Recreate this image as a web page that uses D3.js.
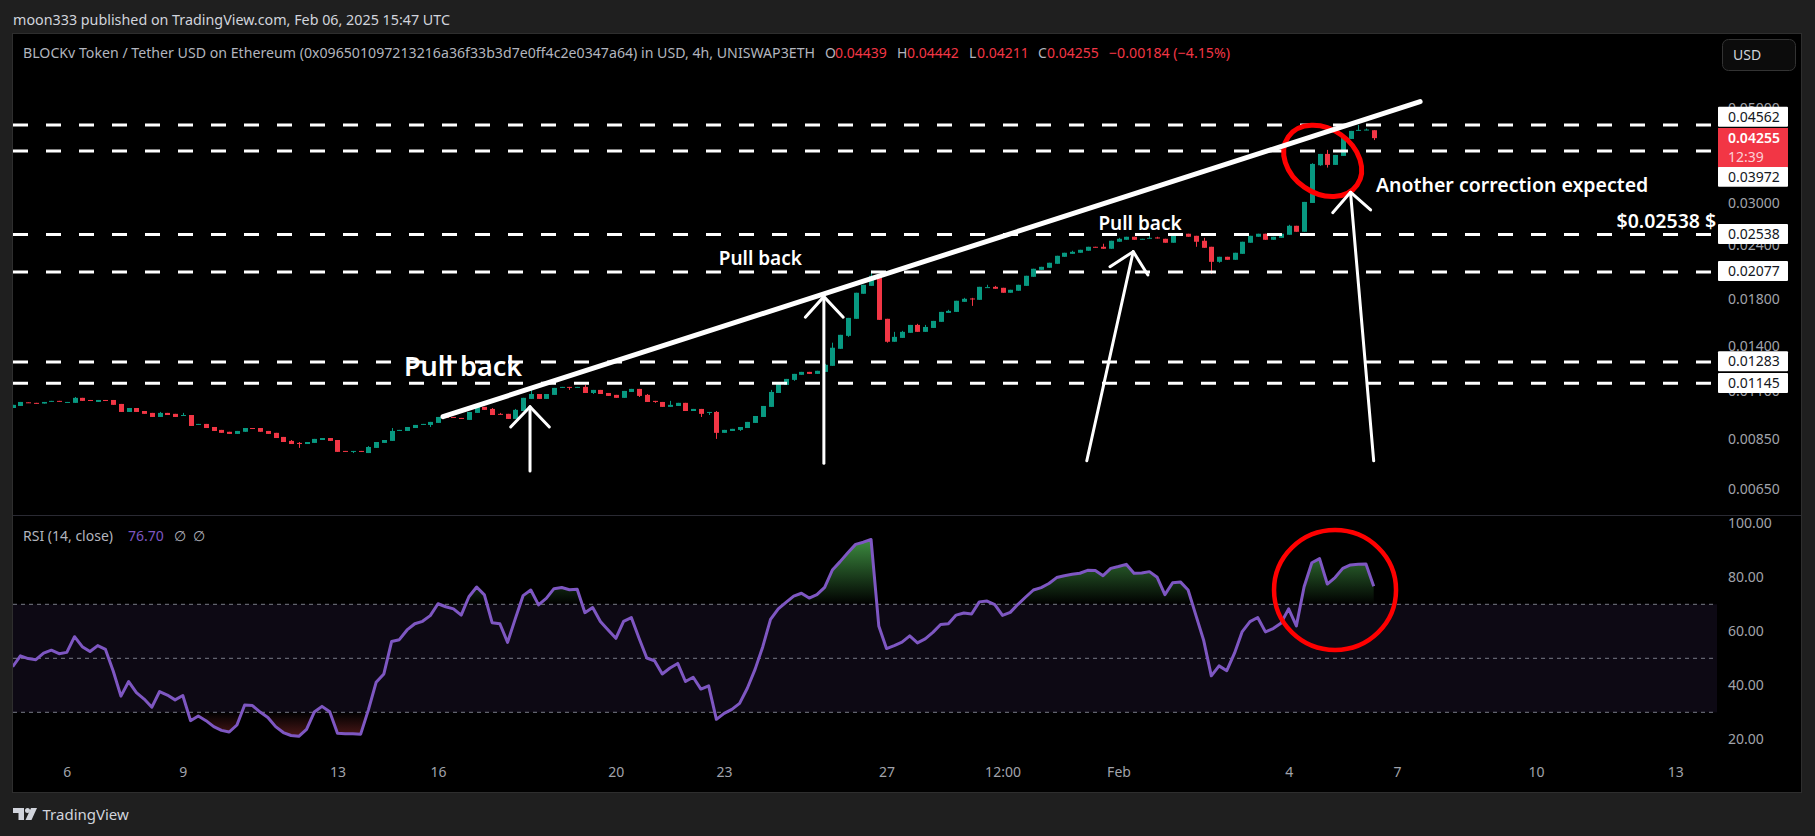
<!DOCTYPE html>
<html>
<head>
<meta charset="utf-8">
<script src="https://cdn.jsdelivr.net/npm/d3@7"></script>
<style>
	html, body { margin: 0; padding: 0; background: #1f1f1f; overflow: hidden; }
	text { font-family: "Noto Sans", sans-serif; }
</style>
</head>
<body>
<div id="chart"></div>
<script>
// 4h candles
var opens = [
	.01003,.01014,.01034,.01031,.01027,.01038,.01042,.01033,.01031,.01059,
	.01047,.01036,.01047,.01047,.01025,.00982,.01003,.00987,.00977,.00956,
	.00977,.00972,.00961,.00966,.00916,.00921,.00906,.00892,.00883,.00873,
	.00883,.00901,.00901,.00887,.00878,.00859,.00841,.00832,.00827,.00832,
	.00845,.00854,.00845,.00797,.00794,.00797,.00788,.00810,.00832,.00841,
	.00887,.00887,.00901,.00916,.00916,.00926,.00956,.00956,.00951,.00941,
	.00977,.01009,.00998,.00972,.00972,.00946,.00987,.01053,.01081,.01053,
	.01076,.01119,.01123,.01119,.01123,.01087,.01105,.01087,.01076,.01059,
	.01093,.01111,.01076,.01042,.01036,.01009,.01014,.01031,.00987,.00998,
	.00978,.00982,.00878,.00887,.00892,.00901,.00926,.00956,.01009,.01087,
	.01135,.01166,.01198,.01217,.01204,.01217,.01257,.01377,.01476,.01617,
	.01849,.01929,.02036,.01617,.01430,.01460,.01500,.01565,.01508,.01540,
	.01591,.01669,.01678,.01771,.01803,.01790,.01912,.01919,.01909,.01859,
	.01879,.01929,.02025,.02102,.02125,.02171,.02254,.02290,.02303,.02328,
	.02378,.02378,.02353,.02443,.02469,.02509,.02473,.02486,.02500,.02482,
	.02430,.02541,.02550,.02522,.02456,.02378,.02194,.02254,.02218,.02290,
	.02430,.02509,.02550,.02469,.02495,.02536,.02661,.02577,.03007,.03680,
	.03910,.03687,.03868,.04237,.04423,.04440,.04439
];
var closes = [
	.01020,.01036,.01031,.01027,.01036,.01042,.01038,.01036,.01059,.01042,
	.01042,.01047,.01042,.01020,.00982,.01003,.00982,.00972,.00956,.00977,
	.00966,.00956,.00966,.00911,.00921,.00901,.00887,.00878,.00873,.00887,
	.00901,.00897,.00883,.00873,.00854,.00836,.00827,.00827,.00836,.00850,
	.00854,.00841,.00793,.00794,.00797,.00794,.00814,.00836,.00845,.00887,
	.00892,.00906,.00916,.00921,.00931,.00956,.00951,.00953,.00947,.00982,
	.01009,.00993,.00966,.00968,.00946,.00993,.01059,.01081,.01053,.01081,
	.01117,.01123,.01117,.01123,.01087,.01105,.01081,.01070,.01059,.01099,
	.01111,.01070,.01036,.01036,.01009,.01020,.01031,.00987,.00998,.00972,
	.00982,.00878,.00892,.00897,.00906,.00931,.00961,.01014,.01093,.01141,
	.01172,.01204,.01217,.01204,.01224,.01264,.01385,.01484,.01625,.01859,
	.01940,.02036,.01608,.01430,.01468,.01508,.01565,.01508,.01548,.01599,
	.01678,.01687,.01781,.01800,.01797,.01919,.01916,.01899,.01859,.01889,
	.01940,.02036,.02114,.02136,.02183,.02266,.02303,.02315,.02340,.02378,
	.02370,.02353,.02456,.02482,.02509,.02469,.02482,.02495,.02486,.02430,
	.02536,.02550,.02509,.02443,.02365,.02194,.02254,.02218,.02303,.02443,
	.02522,.02550,.02469,.02509,.02550,.02661,.02577,.03024,.03706,.03910,
	.03687,.03889,.04260,.04423,.04447,.04455,.04255
];
var highs = [
	.01020,.01036,.01034,.01031,.01036,.01042,.01042,.01036,.01064,.01059,
	.01047,.01047,.01047,.01047,.01025,.01003,.01003,.00987,.00977,.00982,
	.00977,.00972,.00977,.00966,.00921,.00921,.00906,.00892,.00883,.00887,
	.00901,.00901,.00901,.00887,.00878,.00859,.00845,.00836,.00836,.00850,
	.00854,.00854,.00845,.00797,.00797,.00797,.00818,.00836,.00845,.00901,
	.00892,.00906,.00916,.00921,.00931,.00956,.00956,.00956,.00951,.00982,
	.01014,.01009,.01003,.00977,.00972,.00998,.01059,.01105,.01081,.01081,
	.01117,.01123,.01123,.01123,.01135,.01105,.01105,.01087,.01076,.01099,
	.01111,.01111,.01081,.01042,.01036,.01042,.01031,.01031,.00998,.00998,
	.00982,.00987,.00892,.00897,.00906,.00931,.00961,.01014,.01105,.01147,
	.01172,.01204,.01217,.01217,.01224,.01271,.01423,.01484,.01625,.01859,
	.01940,.02091,.02047,.01617,.01508,.01516,.01565,.01574,.01565,.01599,
	.01678,.01697,.01781,.01809,.01809,.01919,.01940,.01929,.01909,.01889,
	.01940,.02036,.02114,.02136,.02183,.02266,.02303,.02328,.02340,.02378,
	.02378,.02417,.02456,.02495,.02509,.02509,.02482,.02522,.02509,.02482,
	.02536,.02550,.02550,.02522,.02495,.02378,.02254,.02254,.02303,.02443,
	.02522,.02550,.02550,.02509,.02550,.02675,.02661,.03024,.03720,.03910,
	.03995,.03889,.04260,.04423,.04567,.04480,.04442
];
var lows = [
	.01003,.01014,.01031,.01027,.01027,.01038,.01038,.01033,.01031,.01042,
	.01042,.01036,.01042,.01020,.00982,.00982,.00982,.00972,.00956,.00956,
	.00966,.00956,.00961,.00911,.00916,.00901,.00887,.00878,.00873,.00873,
	.00883,.00897,.00883,.00873,.00854,.00836,.00827,.00810,.00827,.00832,
	.00845,.00841,.00793,.00794,.00788,.00794,.00788,.00810,.00832,.00841,
	.00887,.00887,.00901,.00916,.00906,.00926,.00951,.00953,.00947,.00941,
	.00977,.00993,.00966,.00968,.00946,.00946,.00987,.01053,.01053,.01053,
	.01076,.01119,.01105,.01119,.01087,.01081,.01081,.01070,.01059,.01059,
	.01093,.01064,.01036,.01031,.01009,.01009,.01014,.00987,.00987,.00956,
	.00966,.00850,.00878,.00887,.00887,.00901,.00926,.00956,.01009,.01087,
	.01135,.01160,.01198,.01204,.01204,.01217,.01257,.01377,.01468,.01617,
	.01849,.01929,.01608,.01423,.01430,.01460,.01500,.01508,.01508,.01540,
	.01591,.01669,.01678,.01771,.01733,.01790,.01912,.01899,.01859,.01859,
	.01879,.01929,.02025,.02102,.02125,.02171,.02254,.02290,.02303,.02328,
	.02370,.02353,.02353,.02443,.02469,.02469,.02473,.02486,.02486,.02430,
	.02430,.02541,.02509,.02378,.02365,.02058,.02183,.02218,.02218,.02290,
	.02430,.02509,.02469,.02469,.02495,.02536,.02577,.02577,.03007,.03667,
	.03634,.03687,.03868,.04237,.04423,.04440,.04211
];
var rsiValues = [
	46.9,50.9,49.9,49.5,51.9,53.0,51.7,52.2,58.0,54.3,
	52.5,54.7,53.3,45.3,36.0,41.4,37.3,34.9,31.9,37.7,
	36.4,34.6,36.2,26.9,28.6,26.9,24.7,23.3,22.7,25.3,
	32.7,32.5,30.1,28.1,24.7,22.5,21.4,21.1,23.7,30.1,
	32.2,30.2,22.2,22.1,22.1,21.9,30.9,41.1,44.2,56.2,
	56.9,60.5,62.8,63.7,65.8,70.2,69.1,68.3,66.0,72.8,
	76.4,73.5,63.2,62.8,55.9,64.7,73.2,75.3,69.8,72.2,
	75.8,76.2,75.4,75.6,66.9,68.8,63.6,60.5,57.4,63.7,
	65.1,57.4,50.1,49.1,44.2,46.4,48.1,41.4,43.0,38.6,
	39.8,27.4,29.6,31.1,33.3,38.9,45.9,54.3,64.4,68.3,
	70.7,73.0,74.1,72.3,73.6,76.3,82.7,85.8,89.1,92.2,
	93.0,94.0,62.0,53.6,54.7,56.0,58.3,55.7,57.2,59.6,
	62.5,62.8,66.0,66.8,66.4,70.9,71.2,69.9,65.9,67.0,
	70.0,72.7,75.3,76.2,77.7,79.9,80.6,81.1,81.5,82.6,
	82.5,80.6,83.3,84.0,84.8,81.5,81.6,82.1,80.0,73.6,
	78.0,78.3,75.3,66.0,56.8,43.5,47.2,45.4,51.9,59.9,
	63.6,65.1,59.8,61.0,63.0,68.3,62.0,76.5,85.4,86.9,
	77.5,79.9,83.3,84.6,84.8,84.9,76.7
];

// axis labels
var priceTicks = [0.05, 0.03, 0.024, 0.018, 0.014, 0.011, 0.0085, 0.0065];
var rsiTicks = [100, 80, 60, 40, 20];
var rsiBands = [70, 50, 30];
var timeTickBars = [7, 22, 42, 55, 78, 92, 113, 128, 143, 165, 179, 197, 215];
var timeTickLabels = ["6", "9", "13", "16", "20", "23", "27", "12:00", "Feb", "4", "7", "10", "13"];

// horizontal levels drawn on the chart
var levels = [0.04562, 0.03972, 0.02538, 0.02077, 0.01283, 0.01145];

// trend line and arrows as [bar, price]
var trendLine = [[55.65, 0.009574], [182, 0.05174]];
var arrows = [
	{ tip: [66.9, 0.0101], tail: [66.9, 0.00716], left: [64.4, 0.00906], right: [69.4, 0.00906] },
	{ tip: [104.9, 0.01821], tail: [104.9, 0.00746], left: [102.5, 0.01631], right: [107.4, 0.01631] },
	{ tip: [144.9, 0.02317], tail: [138.9, 0.00756], left: [141.9, 0.02138], right: [146.8, 0.02045] },
	{ tip: [173, 0.03185], tail: [176, 0.00756], left: [170.7, 0.02855], right: [175.6, 0.02897] }
];
var notes = [
	{ text: "Pull back", bar: 50.6, price: 0.01249, size: 27 },
	{ text: "Pull back", bar: 91.3, price: 0.0224, size: 19 },
	{ text: "Pull back", bar: 140.4, price: 0.02702, size: 19 },
	{ text: "Another correction expected", bar: 176.3, price: 0.03299, size: 19.5 },
	{ text: "$0.02538 $", bar: 207.4, price: 0.02721, size: 19.5 }
];

// legend pieces
var ohlcNames = ["O", "H", "L", "C"];
var ohlcValues = ["0.04439", "0.04442", "0.04211", "0.04255"];
var ohlcNameX = [825, 897, 969, 1038];
var ohlcValueX = [835, 907, 977, 1047];

var width = 1815, height = 836;
var paneLeft = 13, paneTop = 34, paneRight = 1801, paneBottom = 792;
var plotRight = 1717, paneSplit = 515;
var green = "#089981", red = "#f23645", purple = "#7e57c2";

var svg = d3.select("#chart").append("svg")
	.attr("width", width)
	.attr("height", height)
	.style("display", "block");

var x = d3.scaleLinear().domain([0, 176]).range([12.67, 1373.7]);
var y = d3.scaleLog().domain([0.0065, 0.05]).range([489, 108]);
var yRsi = d3.scaleLinear().domain([70, 30]).range([604.3, 712.3]);

var defs = svg.append("defs");

function addClip(id, x0, y0, w, h) {
	defs.append("clipPath").attr("id", id).append("rect")
		.attr("x", x0).attr("y", y0).attr("width", w).attr("height", h);
}
addClip("plotClip", paneLeft, paneTop, plotRight - paneLeft, paneSplit - paneTop);
addClip("rsiClip", paneLeft, paneSplit, plotRight - paneLeft, paneBottom - paneSplit);
addClip("upperClip", paneLeft, yRsi(100), plotRight - paneLeft, yRsi(70) - yRsi(100));
addClip("lowerClip", paneLeft, yRsi(30), plotRight - paneLeft, yRsi(0) - yRsi(30));

function addGradient(id, from, to, color, fromAlpha, toAlpha) {
	var g = defs.append("linearGradient").attr("id", id)
		.attr("gradientUnits", "userSpaceOnUse")
		.attr("x1", 0).attr("x2", 0).attr("y1", from).attr("y2", to);
	g.append("stop").attr("offset", 0).attr("stop-color", color).attr("stop-opacity", fromAlpha);
	g.append("stop").attr("offset", 1).attr("stop-color", color).attr("stop-opacity", toAlpha);
}
addGradient("overbought", yRsi(100), yRsi(70), "#4caf50", 1, 0);
addGradient("oversold", yRsi(30), yRsi(0), "#ff5252", 0, 1);

// page and panes
svg.append("text")
	.attr("x", 13).attr("y", 20).attr("dy", "0.35em")
	.attr("fill", "#d1d4dc").attr("font-size", 14)
	.attr("textLength", 437).attr("lengthAdjust", "spacingAndGlyphs")
	.text("moon333 published on TradingView.com, Feb 06, 2025 15:47 UTC");

svg.append("rect")
	.attr("x", paneLeft - 0.5).attr("y", paneTop - 0.5)
	.attr("width", paneRight - paneLeft + 1).attr("height", paneBottom - paneTop + 1)
	.attr("fill", "#000").attr("stroke", "#2e2e2e");

svg.append("line")
	.attr("x1", paneLeft).attr("x2", paneRight)
	.attr("y1", paneSplit + 0.5).attr("y2", paneSplit + 0.5)
	.attr("stroke", "#2a2a33");

// legend
var legendGrey = "#b2b5be";
svg.append("text")
	.attr("x", 23).attr("y", 53).attr("dy", "0.35em")
	.attr("fill", legendGrey).attr("font-size", 14)
	.attr("textLength", 792).attr("lengthAdjust", "spacingAndGlyphs")
	.text("BLOCKv Token / Tether USD on Ethereum (0x096501097213216a36f33b3d7e0ff4c2e0347a64) in USD, 4h, UNISWAP3ETH");

ohlcNames.forEach(function(name, i) {
	svg.append("text")
		.attr("x", ohlcNameX[i]).attr("y", 53).attr("dy", "0.35em")
		.attr("fill", legendGrey).attr("font-size", 14)
		.text(name);
	svg.append("text")
		.attr("x", ohlcValueX[i]).attr("y", 53).attr("dy", "0.35em")
		.attr("fill", red).attr("font-size", 14)
		.text(ohlcValues[i]);
});
svg.append("text")
	.attr("x", 1109).attr("y", 53).attr("dy", "0.35em")
	.attr("fill", red).attr("font-size", 14)
	.attr("textLength", 121).attr("lengthAdjust", "spacingAndGlyphs")
	.text("\u22120.00184 (\u22124.15%)");

svg.append("rect")
	.attr("x", 1722.5).attr("y", 39.5).attr("width", 73).attr("height", 31).attr("rx", 6)
	.attr("fill", "#0c0c0c").attr("stroke", "#333");
svg.append("text")
	.attr("x", 1733).attr("y", 55).attr("dy", "0.35em")
	.attr("fill", "#d1d4dc").attr("font-size", 14)
	.text("USD");

// price axis, below the level labels
var priceAxis = svg.append("g")
	.attr("transform", "translate(1728,0)")
	.call(d3.axisRight(y).tickValues(priceTicks).tickFormat(d3.format(".5f")).tickSize(0).tickPadding(0));
var rsiAxis = svg.append("g")
	.attr("transform", "translate(1728,0)")
	.call(d3.axisRight(yRsi).tickValues(rsiTicks).tickFormat(d3.format(".2f")).tickSize(0).tickPadding(0));
var timeAxis = svg.append("g")
	.attr("transform", "translate(0,767)")
	.call(d3.axisBottom(x).tickValues(timeTickBars)
		.tickFormat(function(d, i) { return timeTickLabels[i]; }).tickSize(0).tickPadding(0));
[priceAxis, rsiAxis, timeAxis].forEach(function(axis) {
	axis.select(".domain").remove();
	axis.selectAll("text")
		.attr("fill", "#a0a3ab")
		.attr("font-size", 14)
		.style("font-family", "\"Noto Sans\", sans-serif");
});

// candles
var bars = d3.range(opens.length);
var candles = svg.append("g").attr("clip-path", "url(#plotClip)");
function candleColor(i) {
	return closes[i] >= opens[i] ? green : red;
}
candles.selectAll("line").data(bars).enter().append("line")
	.attr("x1", function(i) { return Math.round(x(i)) + 0.5; })
	.attr("x2", function(i) { return Math.round(x(i)) + 0.5; })
	.attr("y1", function(i) { return y(highs[i]); })
	.attr("y2", function(i) { return y(lows[i]); })
	.attr("stroke", candleColor);
candles.selectAll("rect").data(bars).enter().append("rect")
	.attr("x", function(i) { return Math.round(x(i)) - 2; })
	.attr("width", 5)
	.attr("y", function(i) { return y(Math.max(opens[i], closes[i])); })
	.attr("height", function(i) {
		return Math.max(1, Math.abs(y(opens[i]) - y(closes[i])));
	})
	.attr("fill", candleColor);

// RSI pane
svg.append("rect")
	.attr("x", paneLeft).attr("width", plotRight - paneLeft)
	.attr("y", yRsi(70)).attr("height", yRsi(30) - yRsi(70))
	.attr("fill", purple).attr("fill-opacity", 0.1);
svg.selectAll(".rsiBand").data(rsiBands).enter().append("line")
	.attr("class", "rsiBand")
	.attr("x1", paneLeft).attr("x2", plotRight)
	.attr("y1", function(d) { return yRsi(d); })
	.attr("y2", function(d) { return yRsi(d); })
	.attr("stroke", "#787b86")
	.attr("stroke-dasharray", "4 4");

var areaTo = function(level) {
	return d3.area()
		.x(function(d, i) { return x(i); })
		.y0(yRsi(level))
		.y1(function(d) { return yRsi(d); });
};
svg.append("path").datum(rsiValues)
	.attr("d", areaTo(70))
	.attr("clip-path", "url(#upperClip)")
	.attr("fill", "url(#overbought)");
svg.append("path").datum(rsiValues)
	.attr("d", areaTo(30))
	.attr("clip-path", "url(#lowerClip)")
	.attr("fill", "url(#oversold)");
svg.append("path").datum(rsiValues)
	.attr("d", d3.line().x(function(d, i) { return x(i); }).y(function(d) { return yRsi(d); }))
	.attr("clip-path", "url(#rsiClip)")
	.attr("fill", "none")
	.attr("stroke", purple)
	.attr("stroke-width", 3)
	.attr("stroke-linejoin", "round");

var rsiLegend = svg.append("text")
	.attr("x", 23).attr("y", 536).attr("dy", "0.35em")
	.attr("font-size", 14);
rsiLegend.append("tspan").attr("fill", legendGrey).text("RSI (14, close)");
rsiLegend.append("tspan").attr("x", 128).attr("fill", purple).text("76.70");
rsiLegend.append("tspan").attr("x", 174).attr("fill", legendGrey).text("\u2205");
rsiLegend.append("tspan").attr("x", 193).attr("fill", legendGrey).text("\u2205");

// drawings on the chart
var drawings = svg.append("g").attr("clip-path", "url(#plotClip)");
drawings.selectAll(".level").data(levels).enter().append("line")
	.attr("class", "level")
	.attr("x1", paneLeft).attr("x2", 1712)
	.attr("y1", function(d) { return y(d); })
	.attr("y2", function(d) { return y(d); })
	.attr("stroke", "#fff")
	.attr("stroke-width", 3)
	.attr("stroke-dasharray", "15 18");

drawings.append("ellipse")
	.attr("cx", x(169.4)).attr("cy", y(0.03766))
	.attr("rx", 42).attr("ry", 32)
	.attr("transform", "rotate(35 " + x(169.4) + " " + y(0.03766) + ")")
	.attr("fill", "none").attr("stroke", "#f00").attr("stroke-width", 5);
svg.append("ellipse")
	.attr("cx", x(171)).attr("cy", yRsi(75.3))
	.attr("rx", 61).attr("ry", 60)
	.attr("fill", "none").attr("stroke", "#f00").attr("stroke-width", 4.5);

var pricePoint = d3.line()
	.x(function(d) { return x(d[0]); })
	.y(function(d) { return y(d[1]); });
drawings.append("path")
	.attr("d", pricePoint(trendLine))
	.attr("fill", "none").attr("stroke", "#fff")
	.attr("stroke-width", 5).attr("stroke-linecap", "round");

drawings.selectAll(".arrow").data(arrows).enter().append("g")
	.attr("class", "arrow")
	.each(function(d) {
		var g = d3.select(this);
		[[d.tail, d.tip], [d.left, d.tip, d.right]].forEach(function(points) {
			g.append("path")
				.attr("d", pricePoint(points))
				.attr("fill", "none").attr("stroke", "#fff")
				.attr("stroke-width", 3)
				.attr("stroke-linecap", "round").attr("stroke-linejoin", "round");
		});
	});

drawings.selectAll(".note").data(notes).enter().append("text")
	.attr("class", "note")
	.attr("x", function(d) { return x(d.bar); })
	.attr("y", function(d) { return y(d.price); })
	.attr("dy", "0.35em")
	.attr("fill", "#fff")
	.attr("font-size", function(d) { return d.size; })
	.attr("font-weight", 600)
	.text(function(d) { return d.text; });

// level labels, moved apart where they would overlap like the platform does
var labelY = [116.7, 176.7, 234, 271, 361.3, 383];
var labelFormat = d3.format(".5f");
var labelGroups = svg.selectAll(".levelLabel").data(levels).enter().append("g")
	.attr("class", "levelLabel")
	.attr("transform", function(d, i) { return "translate(1718," + labelY[i] + ")"; });
labelGroups.append("rect")
	.attr("y", -10).attr("width", 70).attr("height", 20).attr("rx", 1)
	.attr("fill", "#fff");
labelGroups.append("text")
	.attr("x", 10).attr("dy", "0.35em")
	.attr("fill", "#131722").attr("font-size", 14)
	.text(function(d) { return labelFormat(d); });

// last price tag
svg.append("rect")
	.attr("x", 1718).attr("y", 128).attr("width", 70).attr("height", 39)
	.attr("fill", red);
svg.append("text")
	.attr("x", 1728).attr("y", y(closes[closes.length - 1])).attr("dy", "0.35em")
	.attr("fill", "#fff").attr("font-size", 14).attr("font-weight", 600)
	.text(labelFormat(closes[closes.length - 1]));
svg.append("text")
	.attr("x", 1728).attr("y", 157).attr("dy", "0.35em")
	.attr("fill", "#fcd0d5").attr("font-size", 14)
	.text("12:39");

// footer logo
var logo = svg.append("g").attr("transform", "translate(13,808)").attr("fill", "#d1d4dc");
logo.append("path").attr("d", "M0 0H11V12H5.5V5H0Z");
logo.append("circle").attr("cx", 14.5).attr("cy", 2.5).attr("r", 2.5);
logo.append("path").attr("d", "M18 0H24L18.5 12H12.5Z");
svg.append("text")
	.attr("x", 42.5).attr("y", 815).attr("dy", "0.35em")
	.attr("fill", "#d1d4dc").attr("font-size", 15)
	.text("TradingView");
</script>
</body>
</html>
